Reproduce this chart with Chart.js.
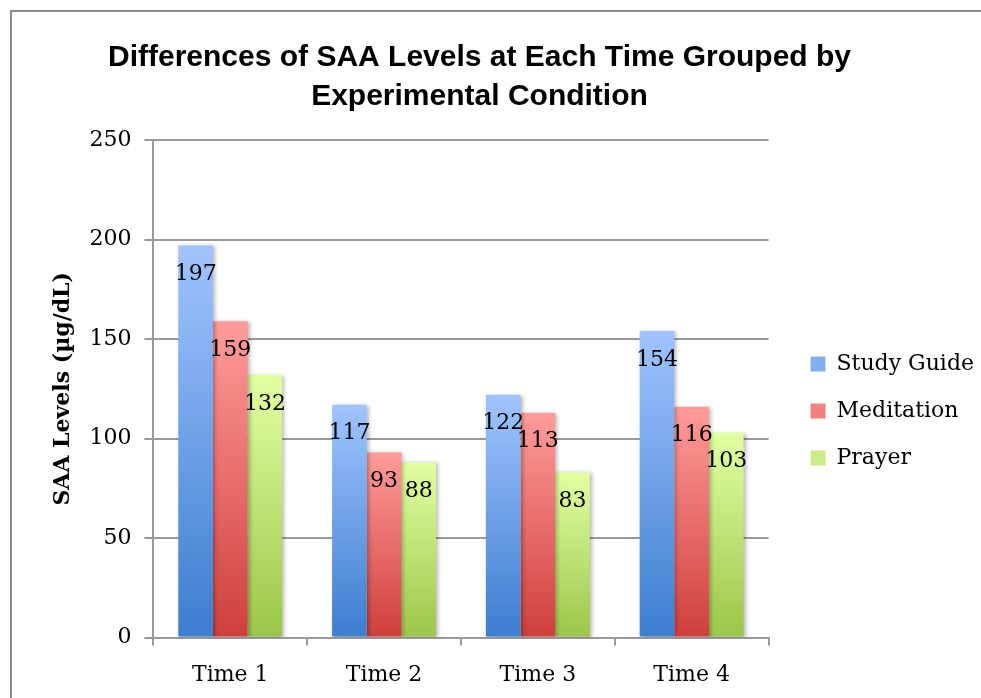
<!DOCTYPE html>
<html>
<head>
<meta charset="utf-8">
<script src="https://cdn.jsdelivr.net/npm/chart.js@4"></script>
<style>
  html, body { margin: 0; padding: 0; background: #fff; }
  #wrap { position: relative; width: 981px; height: 698px; overflow: hidden; }
  #frame { position: absolute; left: 10px; top: 10px; width: 1000px; height: 720px;
           border-left: 2px solid #8c8c8c; border-top: 2px solid #8c8c8c; pointer-events: none; }
</style>
</head>
<body>
<div id="wrap">
  <canvas id="myChart" width="981" height="698"></canvas>
  <div id="frame"></div>
</div>
<script>
var categories = ['Time 1', 'Time 2', 'Time 3', 'Time 4'];
var studyGuide = [197, 117, 122, 154];
var meditation = [159, 93, 113, 116];
var prayer = [132, 88, 83, 103];
var yTicks = [0, 50, 100, 150, 200, 250];

var serif = "'DejaVu Serif', serif";

function barGradient(top, bottom, mid) {
    return function (context) {
        var chart = context.chart;
        if (context.type !== 'data' || !chart.chartArea) return mid;
        var y = chart.scales.y;
        var yTop = y.getPixelForValue(context.raw);
        var yBase = y.getPixelForValue(0);
        var g = chart.ctx.createLinearGradient(0, yTop, 0, yBase);
        g.addColorStop(0, top);
        g.addColorStop(1, bottom);
        return g;
    };
}

var shadowPlugin = {
    id: 'barShadow',
    beforeDatasetDraw: function (chart) {
        var ctx = chart.ctx;
        ctx.save();
        ctx.shadowColor = 'rgba(0,0,0,0.28)';
        ctx.shadowBlur = 4;
        ctx.shadowOffsetX = 2;
        ctx.shadowOffsetY = 1;
    },
    afterDatasetDraw: function (chart) {
        chart.ctx.restore();
    }
};

// nudge legend and title to where the original ones sit
var boxOffset = {
    id: 'boxOffset',
    afterLayout: function (chart) {
        var lg = chart.legend;
        if (lg) {
            lg.left += 17; lg.right += 17;
            lg.top += 59; lg.bottom += 59;
        }
        var tb = chart.titleBlock;
        if (tb) {
            tb.left -= 29; tb.right -= 29;
        }
    }
};

var dataLabelPlugin = {
    id: 'dataLabels',
    afterDatasetsDraw: function (chart) {
        var ctx = chart.ctx;
        chart.data.datasets.forEach(function (dataset, i) {
            var meta = chart.getDatasetMeta(i);
            if (meta.hidden) return;
            meta.data.forEach(function (element, index) {
                ctx.save();
                ctx.fillStyle = '#000';
                ctx.font = '22px ' + serif;
                ctx.textAlign = 'center';
                ctx.textBaseline = 'middle';
                ctx.fillText(dataset.data[index].toString(), element.x, element.y + 29);
                ctx.restore();
            });
        });
    }
};

var ctx = document.getElementById('myChart').getContext('2d');
var myChart = new Chart(ctx, {
    type: 'bar',
    data: {
        labels: categories,
        datasets: [{
            label: 'Study Guide',
            data: studyGuide,
            backgroundColor: barGradient('#a0c4ff', '#3c7dcf', '#6a9ee6')
        }, {
            label: 'Meditation',
            data: meditation,
            backgroundColor: barGradient('#ff9c9a', '#cf3f3c', '#e8706c')
        }, {
            label: 'Prayer',
            data: prayer,
            backgroundColor: barGradient('#e2ffa2', '#9cc64a', '#c2e478')
        }]
    },
    options: {
        responsive: false,
        animation: false,
        devicePixelRatio: 1,
        layout: { padding: { left: 50, right: 14, top: 0, bottom: -6 } },
        datasets: {
            bar: { categoryPercentage: 0.676, barPercentage: 1, borderWidth: 0 }
        },
        plugins: {
            title: {
                display: true,
                text: ['Differences of SAA Levels at Each Time Grouped by', 'Experimental Condition'],
                color: '#000',
                font: { family: "'Liberation Sans', Arial, sans-serif", size: 30, weight: 'bold', lineHeight: 1.3 },
                padding: { top: 38, bottom: 24 }
            },
            legend: {
                position: 'right',
                labels: {
                    color: '#000',
                    font: { family: serif, size: 22 },
                    boxWidth: 15,
                    boxHeight: 15,
                    padding: 25
                }
            },
            tooltip: { enabled: false }
        },
        scales: {
            x: {
                grid: { drawOnChartArea: false, drawTicks: true, tickLength: 8, color: '#999', lineWidth: 2, offset: true },
                border: { color: '#999', width: 2 },
                ticks: { color: '#000', font: { family: serif, size: 22 }, padding: 16 }
            },
            y: {
                min: 0,
                max: 250,
                afterBuildTicks: function (axis) {
                    axis.ticks = yTicks.map(function (v) { return { value: v }; });
                },
                grid: { color: '#999', lineWidth: 2, tickLength: 9 },
                border: { color: '#999', width: 2 },
                ticks: { color: '#000', font: { family: serif, size: 22 }, padding: 13 },
                title: {
                    display: true,
                    text: 'SAA Levels (µg/dL)',
                    color: '#000',
                    font: { family: serif, size: 22, weight: 'bold' },
                    padding: { top: 0, bottom: 0 }
                }
            }
        }
    },
    plugins: [shadowPlugin, boxOffset, dataLabelPlugin]
});
</script>
</body>
</html>
